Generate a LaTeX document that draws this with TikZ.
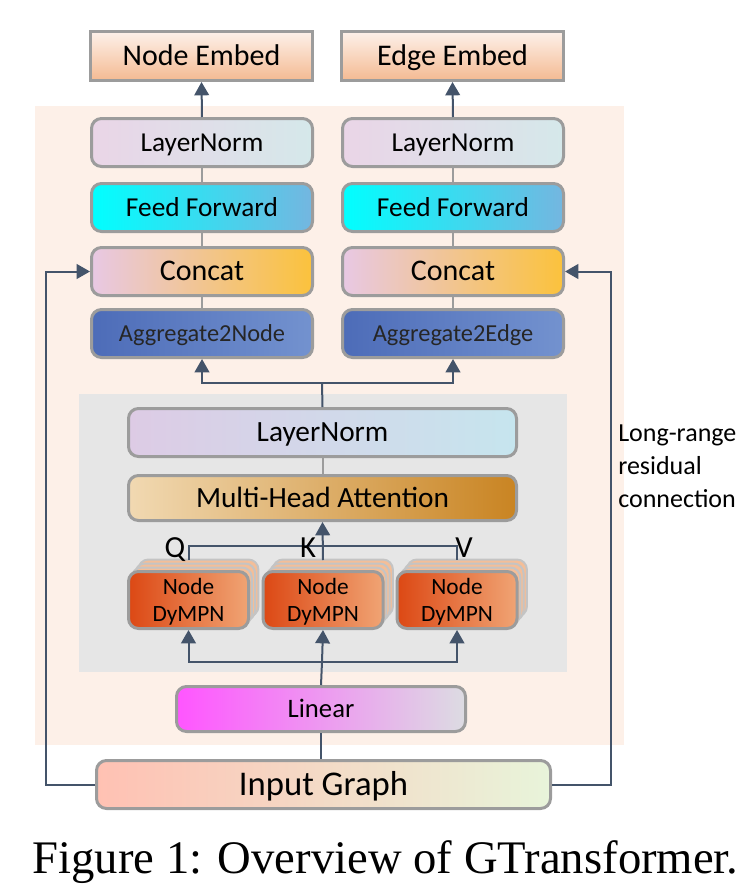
\documentclass[tikz,border=0pt]{standalone}
\usepackage{fontspec}
\setmainfont{Carlito}
\newfontfamily\captionfont{Liberation Serif}
\usepackage{xcolor}
\usepackage{tikz}
\usetikzlibrary{arrows.meta,calc,positioning}

\definecolor{bgpeach}{HTML}{FDF0E8}
\definecolor{bggray}{HTML}{E6E6E6}
\definecolor{boxgray}{HTML}{9C9C9C}
\definecolor{wireblue}{HTML}{44546A}
\definecolor{embtop}{HTML}{FDF1EA}
\definecolor{embbot}{HTML}{F4BA92}
\definecolor{lnleft}{HTML}{EAD5E7}
\definecolor{lnright}{HTML}{D5E8EA}
\definecolor{ffleft}{HTML}{00FFFF}
\definecolor{ffright}{HTML}{74B6E0}
\definecolor{catleft}{HTML}{E8C8E4}
\definecolor{catmid}{HTML}{F2BEAA}
\definecolor{catright}{HTML}{FBC23C}
\definecolor{aggleft}{HTML}{4D6CB8}
\definecolor{aggright}{HTML}{7392CF}
\definecolor{lntwoleft}{HTML}{DDCBE5}
\definecolor{lntworight}{HTML}{C6E5EE}
\definecolor{mhaleft}{HTML}{F1D9B2}
\definecolor{mhamid}{HTML}{E3B468}
\definecolor{mharight}{HTML}{C98422}
\definecolor{dyleft}{HTML}{DC4814}
\definecolor{dyright}{HTML}{F0A474}
\definecolor{dylayer}{HTML}{F4BE98}
\definecolor{linleft}{HTML}{FF55FF}
\definecolor{linright}{HTML}{DCDCE2}
\definecolor{inleft}{HTML}{FFC1B3}
\definecolor{inright}{HTML}{E8F4DA}

\begin{document}
\begin{tikzpicture}[x=0.75pt, y=-0.75pt,
		box/.style={draw=boxgray, line width=2.25pt, rounded corners=7.5pt, inner sep=0pt, align=center},
		fs/.style n args={2}{font=\fontsize{#1}{#1}\selectfont, text height=#2, text depth=0pt},
		colbox/.style={box, minimum width=165.75pt, minimum height=36pt},
		embedbox/.style={box, sharp corners, minimum width=166.5pt, minimum height=36.75pt, top color=embtop, bottom color=embbot, fs={22.5pt}{14.2pt}},
		widebox/.style={box, minimum width=291pt},
		dybox/.style={box, minimum width=90pt, minimum height=42.75pt, text depth=0pt, font=\fontsize{17.5}{20}\selectfont},
		wire/.style={draw=wireblue, line width=1.5pt},
		arr/.style={wire, -{Triangle[length=10pt, width=11pt]}},
		thin/.style={draw=boxgray, line width=1.5pt}]
				\useasboundingbox (0,0) rectangle (752,892);
				
				\fill [bgpeach] (35,106) rectangle (624,745);
				\fill [bggray] (79,394) rectangle (567,672);
				
				% % % % % % % % % % % % % % % % % % % % % % % % % %
				
				\node [embedbox] (nembed) at (201.5,56) {Node Embed};
				\node [embedbox] (eembed) at (452.5,56) {Edge Embed};
				
				\node [colbox, left color=lnleft, right color=lnright, fs={20.5pt}{13pt}] (lnA) at (202,142.5) {LayerNorm};
				\node [colbox, left color=ffleft, right color=ffright, fs={20.5pt}{13pt}] (ffA) at (202,207.5) {Feed Forward};
				\node [colbox, left color=catleft, middle color=catmid, right color=catright, fs={22.5pt}{14.2pt}] (catA) at (202,271.5) {Concat};
				\node [colbox, left color=aggleft, right color=aggright, text=black!85, fs={18.3pt}{11.6pt}] (aggA) at (202,333.5) {Aggregate2Node};
				
				\node [colbox, left color=lnleft, right color=lnright, fs={20.5pt}{13pt}] (lnB) at (453,142.5) {LayerNorm};
				\node [colbox, left color=ffleft, right color=ffright, fs={20.5pt}{13pt}] (ffB) at (453,207.5) {Feed Forward};
				\node [colbox, left color=catleft, middle color=catmid, right color=catright, fs={22.5pt}{14.2pt}] (catB) at (453,271.5) {Concat};
				\node [colbox, left color=aggleft, right color=aggright, text=black!85, fs={18.3pt}{11.6pt}] (aggB) at (453,333.5) {Aggregate2Edge};
				
				\node [widebox, minimum height=36pt, left color=lntwoleft, right color=lntworight, fs={22pt}{13.9pt}] (lnmid) at (322.5,432.5) {LayerNorm};
				\node [widebox, minimum height=33.75pt, left color=mhaleft, middle color=mhamid, right color=mharight, fs={22pt}{13.9pt}] (mha) at (322.5,498) {Multi-Head Attention};
				
				% stacked copies behind the DyMPN boxes
				\foreach \cx/\i in {188.5/1, 323/2, 457/3}
					\foreach \k in {3,2,1}
						\node [dybox, fill=dylayer, draw=boxgray!60, line width=1.5pt] (dy\i-\k) at (\cx+3.3*\k, 600-4*\k) {};
				
				\node [dybox, left color=dyleft, right color=dyright] (dy1) at (188.5,600) {Node\\DyMPN};
				\node [dybox, left color=dyleft, right color=dyright] (dy2) at (323,600) {Node\\DyMPN};
				\node [dybox, left color=dyleft, right color=dyright] (dy3) at (457,600) {Node\\DyMPN};
				
				\node [box, minimum width=216.75pt, minimum height=33.75pt, left color=linleft, right color=linright, fs={20pt}{12.6pt}] (linear) at (321,709) {Linear};
				\node [box, minimum width=340.5pt, minimum height=36pt, left color=inleft, right color=inright, fs={26pt}{16.4pt}] (input) at (323.5,784.5) {Input Graph};
				
				% % % % % % % % % % % % % % % % % % % % % % % % % %
				
				\draw [arr] (lnA.north) -- (nembed.south);
				\draw [arr] (lnB.north) -- (eembed.south);
				\draw [thin] (lnA.south) -- (ffA.north);
				\draw [thin] (ffA.south) -- (catA.north);
				\draw [thin] (catA.south) -- (aggA.north);
				\draw [thin] (lnB.south) -- (ffB.north);
				\draw [thin] (ffB.south) -- (catB.north);
				\draw [thin] (catB.south) -- (aggB.north);
				\draw [thin] (lnmid.south) -- (mha.north);
				
				\coordinate (split) at (322,383);
				\draw [wire] (lnmid.north) -- (split);
				\draw [arr] (split) -| (aggA.south);
				\draw [arr] (split) -| (aggB.south);
				
				\coordinate (qkv) at (322,546);
				\draw [wire] ([yshift=7.5pt]dy1.north) |- (qkv) -| ([yshift=7.5pt]dy3.north);
				\draw [arr] ([yshift=7.5pt]dy2.north) -- (mha.south);
				
				\coordinate (fan) at (322,662);
				\draw [wire] (input.north -| linear.south) -- (linear.south);
				\draw [wire] (linear.north) -- (fan);
				\draw [arr] (fan) -| (dy1.south);
				\draw [arr] (fan) -- (dy2.south);
				\draw [arr] (fan) -| (dy3.south);
				
				\coordinate (resL) at (46,784.5);
				\coordinate (resR) at (611,784.5);
				\draw [arr] (input.west) -- (resL) |- (catA.west);
				\draw [arr] (input.east) -- (resR) |- (catB.west -| catB.east);
				
				% % % % % % % % % % % % % % % % % % % % % % % % % %
				
				\node [anchor=base, font=\fontsize{23}{27}\selectfont] (qlabel) at (175,557) {Q};
				\node [anchor=base, font=\fontsize{23}{27}\selectfont] (klabel) at (308,557) {K};
				\node [anchor=base, font=\fontsize{23}{27}\selectfont] (vlabel) at (464,557) {V};
				
				\node [anchor=north west, inner sep=0pt, align=left, font=\fontsize{19.5}{24.4}\selectfont] (reslabel) at (618,425) {Long-range\\residual\\connection};
				
				\node [anchor=base, inner sep=0pt, font=\captionfont\fontsize{35}{40}\selectfont] (caption) at (385.5,873) {Figure 1: Overview of GTransformer.};
\end{tikzpicture}
\end{document}
